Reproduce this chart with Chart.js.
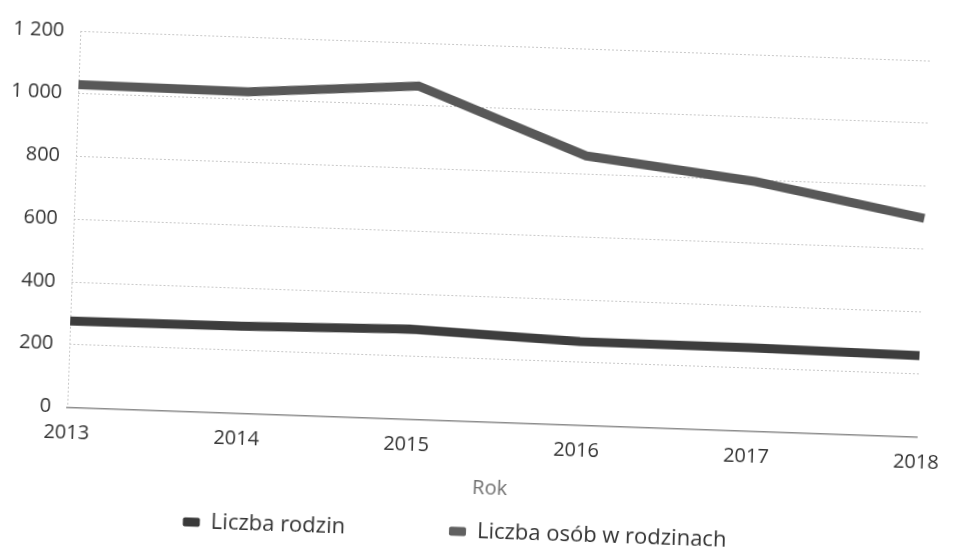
<!DOCTYPE html>
<html>
<head>
<meta charset="utf-8">
<script src="https://cdn.jsdelivr.net/npm/chart.js@4.4.1/dist/chart.umd.min.js"></script>
<style>
  html, body { margin: 0; padding: 0; background: #ffffff; overflow: hidden; }
  #wrap { position: absolute; left: 0; top: 0; width: 959px; height: 553px;
          transform: rotate(2deg); transform-origin: 479.5px 276.5px; }
  canvas { display: block; }
</style>
</head>
<body>
<div id="wrap"><canvas id="c" width="959" height="553"></canvas></div>
<script>
const categories = ['2013', '2014', '2015', '2016', '2017', '2018'];
const liczbaRodzin = [275, 277, 287, 266, 265, 259];
const liczbaOsob = [1029, 1025, 1062, 858, 795, 697];
const yTickValues = [0, 200, 400, 600, 800, 1000, 1200];
const yTickLabels = ['0', '200', '400', '600', '800', '1 000', '1 200'];
const seriesNames = ['Liczba rodzin', 'Liczba osób w rodzinach'];
const axisTitleX = 'Rok';

function draw() {
  Chart.defaults.font.family = "'Open Sans', 'DejaVu Sans', sans-serif";
  Chart.defaults.font.size = 20;
  Chart.defaults.color = '#333333';

  new Chart(document.getElementById('c'), {
    type: 'line',
    data: {
      labels: categories,
      datasets: [
        {
          label: seriesNames[0],
          data: liczbaRodzin,
          borderColor: '#3d3d3d',
          backgroundColor: '#3a3a3a',
          borderWidth: 9,
          pointRadius: 0,
          tension: 0,
          borderJoinStyle: 'miter',
          borderCapStyle: 'butt'
        },
        {
          label: seriesNames[1],
          data: liczbaOsob,
          borderColor: '#585858',
          backgroundColor: '#606060',
          borderWidth: 9,
          pointRadius: 0,
          tension: 0,
          borderJoinStyle: 'miter',
          borderCapStyle: 'butt'
        }
      ]
    },
    options: {
      responsive: false,
      animation: false,
      events: [],
      layout: { padding: { left: 5, right: 37, top: 45, bottom: 0 } },
      scales: {
        x: {
          type: 'category',
          offset: false,
          grid: {
            display: true,
            drawTicks: false,
            color: (ctx) => (ctx.index === 0 ? '#c8c8c8' : 'rgba(0,0,0,0)'),
            lineWidth: 1
          },
          border: { display: true, color: '#8c8c8c', width: 1.5, dash: [2, 2] },
          ticks: { padding: 14, color: '#333333', font: { size: 20 }, maxRotation: 0, autoSkip: false },
          title: {
            display: true,
            text: axisTitleX,
            color: '#707070',
            font: { size: 20 },
            padding: { top: 3, bottom: 4.5 }
          }
        },
        y: {
          min: 0,
          max: 1200,
          afterFit: (s) => { s.width = 67; },
          afterBuildTicks: (s) => { s.ticks = yTickValues.map(v => ({ value: v })); },
          grid: {
            drawTicks: false,
            color: (ctx) => (ctx.tick && ctx.tick.value === 0 ? 'rgba(0,0,0,0)' : '#c8c8c8'),
            lineWidth: 1
          },
          border: { display: false, dash: [2, 2] },
          ticks: {
            padding: 16,
            color: '#333333',
            font: { size: 20 },
            callback: (v) => yTickLabels[yTickValues.indexOf(v)]
          }
        }
      },
      plugins: {
        title: { display: false },
        tooltip: { enabled: false },
        legend: {
          display: true,
          position: 'bottom',
          onClick: null,
          labels: {
            color: '#333333',
            font: { size: 22 },
            boxWidth: 17,
            boxHeight: 9,
            useBorderRadius: true,
            borderRadius: 2,
            padding: 16,
            generateLabels: (chart) => {
              const base = Chart.defaults.plugins.legend.labels.generateLabels(chart)
                .map(it => Object.assign({}, it, { lineWidth: 0 }));
              const spacer = () => ({ text: '', fillStyle: 'rgba(0,0,0,0)', strokeStyle: 'rgba(0,0,0,0)',
                                      lineWidth: 0, hidden: false, datasetIndex: -1 });
              return [base[0], spacer(), spacer(), base[1]];
            }
          }
        }
      }
    }
  });
}

if (document.fonts && document.fonts.load) {
  document.fonts.load('20px "Open Sans"').then(draw, draw);
} else {
  draw();
}
</script>
</body>
</html>
